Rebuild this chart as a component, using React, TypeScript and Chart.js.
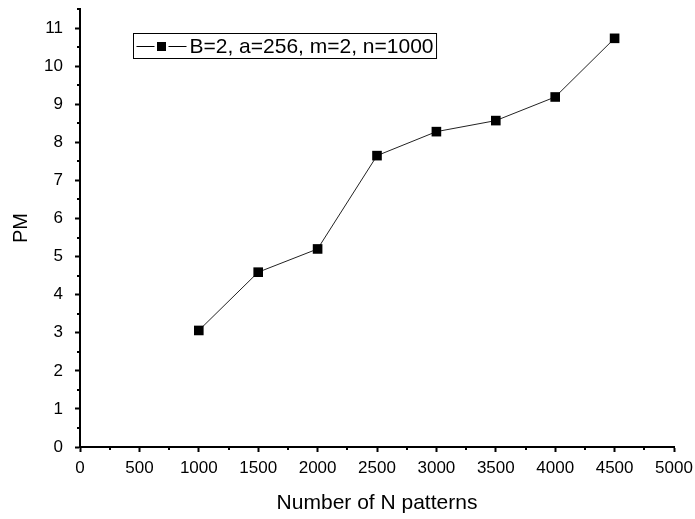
import React, { useEffect, useRef } from "react";
import { Chart, registerables } from "chart.js";

Chart.register(...registerables);

const X_VALUES = [1000, 1500, 2000, 2500, 3000, 3500, 4000, 4500];
const PM_VALUES = [3.06, 4.59, 5.2, 7.65, 8.28, 8.57, 9.19, 10.73];
const SERIES_LABEL = "B=2, a=256, m=2, n=1000";
const X_TITLE = "Number of N patterns";
const Y_TITLE = "PM";
const X_TICKS = [0, 500, 1000, 1500, 2000, 2500, 3000, 3500, 4000, 4500, 5000];
const Y_TICKS = [0, 1, 2, 3, 4, 5, 6, 7, 8, 9, 10, 11];
const X_MINOR = [250, 750, 1250, 1750, 2250, 2750, 3250, 3750, 4250, 4750];
const Y_MINOR = [0.5, 1.5, 2.5, 3.5, 4.5, 5.5, 6.5, 7.5, 8.5, 9.5, 10.5, 11.5];
const X_MIN = 0;
const X_MAX = 5000;
const Y_MIN = 0;
const Y_MAX = 11.5;

const FONT = '"Liberation Sans", Arial, Helvetica, sans-serif';

const minorTicksPlugin = {
  id: "minorTicks",
  afterDraw(chart: any) {
    const { ctx, scales } = chart;
    const xs = scales.x;
    const ys = scales.y;
    ctx.save();
    ctx.strokeStyle = "#000";
    ctx.lineWidth = 2;
    ctx.beginPath();
    const xAxisY = ys.getPixelForValue(Y_MIN);
    X_MINOR.forEach((v) => {
      const px = Math.round(xs.getPixelForValue(v));
      ctx.moveTo(px, xAxisY);
      ctx.lineTo(px, xAxisY + 3);
    });
    const yAxisX = xs.getPixelForValue(X_MIN);
    Y_MINOR.forEach((v) => {
      const py = Math.round(ys.getPixelForValue(v));
      ctx.moveTo(yAxisX, py);
      ctx.lineTo(yAxisX - 3, py);
    });
    ctx.stroke();
    ctx.restore();
  },
};

const legendBoxPlugin = {
  id: "legendBox",
  afterDraw(chart: any) {
    const { ctx, chartArea } = chart;
    ctx.save();
    ctx.font = `21px ${FONT}`;
    const tw = ctx.measureText(SERIES_LABEL).width;
    const left = Math.round(chartArea.left + 53) + 0.5;
    const top = Math.round(chartArea.top + 24) + 0.5;
    const h = 25;
    const textX = left + 56;
    const w = textX + tw + 3 - left;
    ctx.strokeStyle = "#000";
    ctx.lineWidth = 1;
    ctx.fillStyle = "#fff";
    ctx.fillRect(left, top, w, h);
    ctx.strokeRect(left, top, w, h);
    const cy = top + h / 2;
    const ly = Math.round(cy) + 0.5;
    ctx.beginPath();
    ctx.moveTo(left + 3, ly);
    ctx.lineTo(left + 21, ly);
    ctx.moveTo(left + 35, ly);
    ctx.lineTo(left + 53, ly);
    ctx.stroke();
    ctx.fillStyle = "#000";
    const cx = left + 28;
    ctx.fillRect(Math.round(cx - 4.5), Math.round(cy - 4.5), 9, 9);
    ctx.textBaseline = "middle";
    ctx.textAlign = "left";
    ctx.fillText(SERIES_LABEL, textX, cy + 1);
    ctx.restore();
  },
};

export default function App() {
  const ref = useRef<HTMLCanvasElement | null>(null);
  useEffect(() => {
    if (!ref.current) return;
    const chart = new Chart(ref.current, {
      type: "line",
      data: {
        datasets: [
          {
            label: SERIES_LABEL,
            data: X_VALUES.map((x, i) => ({ x, y: PM_VALUES[i] })),
            borderColor: "#222",
            borderWidth: 1,
            backgroundColor: "#000",
            pointStyle: "rect",
            pointRadius: 6.8,
            pointBorderWidth: 0,
            pointBackgroundColor: "#000",
            tension: 0,
          },
        ],
      },
      options: {
        animation: false,
        responsive: false,
        devicePixelRatio: 1,
        layout: { padding: { top: 9, right: 21, left: 0, bottom: 0 } },
        plugins: {
          legend: { display: false },
          tooltip: { enabled: false },
        },
        scales: {
          x: {
            type: "linear",
            min: X_MIN,
            max: X_MAX,
            afterBuildTicks: (s: any) => {
              s.ticks = X_TICKS.map((v) => ({ value: v }));
            },
            afterFit: (s: any) => {
              s.height = 72;
              s.paddingLeft = 0;
              s.paddingRight = 0;
            },
            grid: {
              display: true,
              drawOnChartArea: false,
              drawTicks: true,
              tickLength: 5,
              tickWidth: 2,
              tickColor: "#000",
              color: "#000",
            },
            border: { display: true, color: "#000", width: 2 },
            ticks: {
              color: "#000",
              font: { family: FONT, size: 17 },
              padding: 6,
              maxRotation: 0,
              autoSkip: false,
              callback: (v: any) => String(v),
            },
            title: {
              display: true,
              text: X_TITLE,
              color: "#000",
              font: { family: FONT, size: 21 },
              padding: { top: 0, bottom: 3 },
            },
          },
          y: {
            type: "linear",
            min: Y_MIN,
            max: Y_MAX,
            afterBuildTicks: (s: any) => {
              s.ticks = Y_TICKS.map((v) => ({ value: v }));
            },
            afterFit: (s: any) => {
              s.width = 80;
              s.paddingTop = 0;
              s.paddingBottom = 0;
            },
            grid: {
              display: true,
              drawOnChartArea: false,
              drawTicks: true,
              tickLength: 5,
              tickWidth: 2,
              tickColor: "#000",
              color: "#000",
            },
            border: { display: true, color: "#000", width: 2 },
            ticks: {
              color: "#000",
              font: { family: FONT, size: 17 },
              padding: 12,
              autoSkip: false,
              callback: (v: any) => String(v),
            },
            title: {
              display: true,
              text: Y_TITLE,
              color: "#000",
              font: { family: FONT, size: 20 },
              padding: { top: 9, bottom: 0 },
            },
          },
        },
      },
      plugins: [minorTicksPlugin, legendBoxPlugin],
    });
    return () => chart.destroy();
  }, []);
  return (
    <div style={{ position: "fixed", left: 0, top: 0, width: 695, height: 519, background: "#fff" }}>
      <canvas ref={ref} width={695} height={519} style={{ display: "block" }} />
    </div>
  );
}
